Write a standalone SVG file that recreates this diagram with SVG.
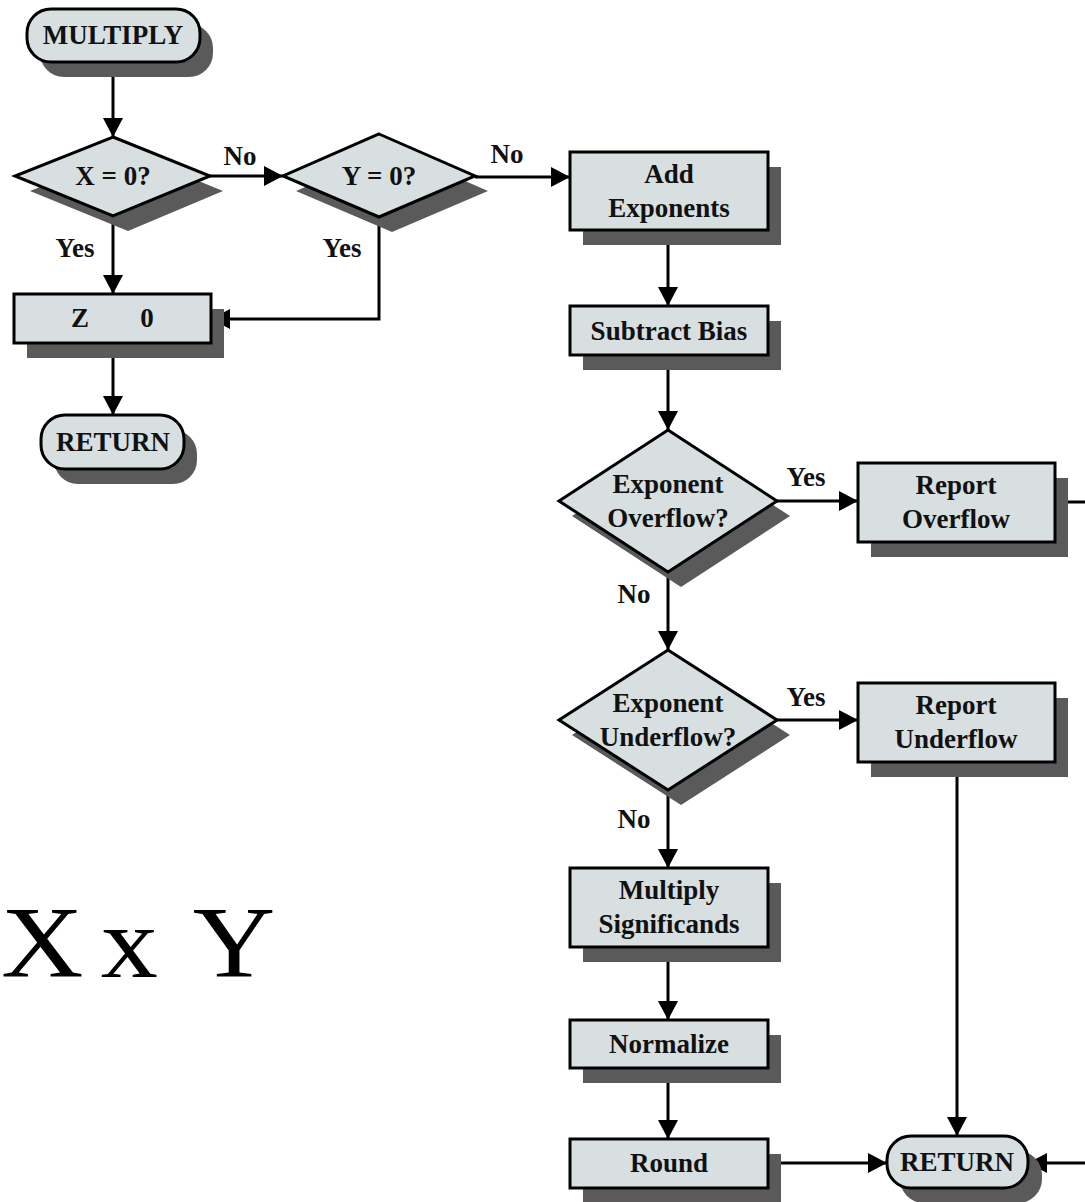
<svg xmlns="http://www.w3.org/2000/svg" width="1085" height="1202" viewBox="0 0 1085 1202">
  <style>
    .shape { fill: #d7dfe0; stroke: #000; stroke-width: 3; }
    .shadow { fill: #5a5a5a; stroke: none; }
    .t { font-family: "Liberation Serif", "Times New Roman", serif; font-weight: bold; font-size: 27px; fill: #111; text-anchor: middle; }
    .lbl { font-family: "Liberation Serif", "Times New Roman", serif; font-weight: bold; font-size: 27px; fill: #111; text-anchor: middle; }
    .edge { fill: none; stroke: #000; stroke-width: 3; }
    .big { font-family: "Liberation Serif", "Times New Roman", serif; font-size: 102px; fill: #000; }
  </style>
  <defs>
    <marker id="arrow" markerUnits="userSpaceOnUse" markerWidth="22" markerHeight="22" refX="19" refY="10" orient="auto">
      <path d="M0,0 L19,10 L0,20 z" fill="#000"/>
    </marker>
  </defs>
  <rect width="1085" height="1202" fill="#fff"/>

  <!-- connectors -->
  <g id="connectors">
    <path class="edge" d="M113,62 V137" marker-end="url(#arrow)"/>
    <path class="edge" d="M210,176 H283" marker-end="url(#arrow)"/>
    <path class="edge" d="M113,216 V294" marker-end="url(#arrow)"/>
    <path class="edge" d="M379,217 V319 H211" marker-end="url(#arrow)"/>
    <path class="edge" d="M475,177 H570" marker-end="url(#arrow)"/>
    <path class="edge" d="M113,343 V415" marker-end="url(#arrow)"/>
    <path class="edge" d="M668,230 V306" marker-end="url(#arrow)"/>
    <path class="edge" d="M668,355 V430" marker-end="url(#arrow)"/>
    <path class="edge" d="M775,501 H858" marker-end="url(#arrow)"/>
    <path class="edge" d="M668,572 V650" marker-end="url(#arrow)"/>
    <path class="edge" d="M775,720 H858" marker-end="url(#arrow)"/>
    <path class="edge" d="M668,790 V868" marker-end="url(#arrow)"/>
    <path class="edge" d="M668,947 V1020" marker-end="url(#arrow)"/>
    <path class="edge" d="M668,1068 V1139" marker-end="url(#arrow)"/>
    <path class="edge" d="M768,1163 H887" marker-end="url(#arrow)"/>
    <path class="edge" d="M957,762 V1136" marker-end="url(#arrow)"/>
    <path class="edge" d="M1055,502 H1100 V1163 H1028" marker-end="url(#arrow)"/>
    <text class="lbl" x="240" y="165">No</text>
    <text class="lbl" x="507" y="163">No</text>
    <text class="lbl" x="75" y="257">Yes</text>
    <text class="lbl" x="342" y="257">Yes</text>
    <text class="lbl" x="806" y="486">Yes</text>
    <text class="lbl" x="806" y="706">Yes</text>
    <text class="lbl" x="634" y="603">No</text>
    <text class="lbl" x="634" y="828">No</text>
  </g>

  <g id="multiply">
    <rect class="shadow" x="40" y="24" width="173" height="53" rx="24"/>
    <rect class="shape" x="27" y="9" width="173" height="53" rx="24"/>
    <text class="t" x="113" y="44">MULTIPLY</text>
  </g>

  <g id="x-zero">
    <polygon class="shadow" points="128,152 223,191 128,231 30,191"/>
    <polygon class="shape" points="113,137 210,176 113,216 15,176"/>
    <text class="t" x="113" y="185">X = 0?</text>
  </g>

  <g id="y-zero">
    <polygon class="shadow" points="392,149 488,191 392,232 296,191"/>
    <polygon class="shape" points="379,134 475,176 379,217 283,176"/>
    <text class="t" x="379" y="185">Y = 0?</text>
  </g>

  <g id="z-zero">
    <rect class="shadow" x="27" y="309" width="197" height="49"/>
    <rect class="shape" x="14" y="294" width="197" height="49"/>
    <text class="t" x="80" y="327">Z</text>
    <text class="t" x="147" y="327">0</text>
  </g>

  <g id="return-left">
    <rect class="shadow" x="54" y="430" width="143" height="54" rx="24"/>
    <rect class="shape" x="41" y="415" width="143" height="54" rx="24"/>
    <text class="t" x="113" y="451">RETURN</text>
  </g>

  <g id="add-exponents">
    <rect class="shadow" x="583" y="167" width="198" height="78"/>
    <rect class="shape" x="570" y="152" width="198" height="78"/>
    <text class="t" x="669" y="183">Add</text>
    <text class="t" x="669" y="217">Exponents</text>
  </g>

  <g id="subtract-bias">
    <rect class="shadow" x="583" y="321" width="198" height="49"/>
    <rect class="shape" x="570" y="306" width="198" height="49"/>
    <text class="t" x="669" y="340">Subtract Bias</text>
  </g>

  <g id="overflow-test">
    <polygon class="shadow" points="681,445 790,516 681,587 572,516"/>
    <polygon class="shape" points="668,430 777,501 668,572 559,501"/>
    <text class="t" x="668" y="493">Exponent</text>
    <text class="t" x="668" y="527">Overflow?</text>
  </g>

  <g id="report-overflow">
    <rect class="shadow" x="871" y="478" width="197" height="79"/>
    <rect class="shape" x="858" y="463" width="197" height="79"/>
    <text class="t" x="956" y="494">Report</text>
    <text class="t" x="956" y="528">Overflow</text>
  </g>

  <g id="underflow-test">
    <polygon class="shadow" points="681,665 790,735 681,805 572,735"/>
    <polygon class="shape" points="668,650 777,720 668,790 559,720"/>
    <text class="t" x="668" y="712">Exponent</text>
    <text class="t" x="668" y="746">Underflow?</text>
  </g>

  <g id="report-underflow">
    <rect class="shadow" x="871" y="698" width="197" height="79"/>
    <rect class="shape" x="858" y="683" width="197" height="79"/>
    <text class="t" x="956" y="714">Report</text>
    <text class="t" x="956" y="748">Underflow</text>
  </g>

  <g id="multiply-significands">
    <rect class="shadow" x="583" y="883" width="198" height="79"/>
    <rect class="shape" x="570" y="868" width="198" height="79"/>
    <text class="t" x="669" y="899">Multiply</text>
    <text class="t" x="669" y="933">Significands</text>
  </g>

  <g id="normalize">
    <rect class="shadow" x="583" y="1035" width="198" height="48"/>
    <rect class="shape" x="570" y="1020" width="198" height="48"/>
    <text class="t" x="669" y="1053">Normalize</text>
  </g>

  <g id="round">
    <rect class="shadow" x="583" y="1154" width="198" height="49"/>
    <rect class="shape" x="570" y="1139" width="198" height="49"/>
    <text class="t" x="669" y="1172">Round</text>
  </g>

  <g id="return-right">
    <rect class="shadow" x="900" y="1151" width="142" height="52" rx="24"/>
    <rect class="shape" x="887" y="1136" width="141" height="52" rx="24"/>
    <text class="t" x="957" y="1171">RETURN</text>
  </g>

  <!-- product caption, slightly widened -->
  <g id="caption" transform="scale(1.12,1)">
    <text class="big" y="977"><tspan x="1">X</tspan><tspan x="90">x</tspan><tspan x="172">Y</tspan></text>
  </g>
</svg>
